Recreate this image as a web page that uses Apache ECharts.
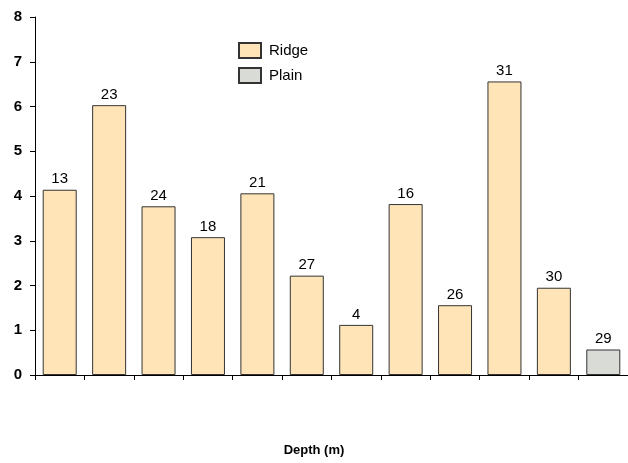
<!DOCTYPE html>
<html>
<head>
<meta charset="utf-8">
<script src="https://cdn.jsdelivr.net/npm/echarts@6/dist/echarts.min.js"></script>
<style>html,body{margin:0;padding:0;background:#fff}#c{width:628px;height:463px}</style>
</head>
<body>
<div id="c"></div>
<script>
var categories = ['1','2','3','4','5','6','7','8','9','10','11','12'];
var ridgeValues = [4.14, 6.03, 3.77, 3.08, 4.06, 2.22, 1.12, 3.82, 1.56, 6.56, 1.95, null];
var plainValues = [null, null, null, null, null, null, null, null, null, null, null, 0.57];
var barLabels = ['13','23','24','18','21','27','4','16','26','31','30','29'];
var yTicks = [0,1,2,3,4,5,6,7,8];

var chart = echarts.init(document.getElementById('c'));
var font = 'Arial, "Liberation Sans", sans-serif';
function lbl(p){ return barLabels[p.dataIndex]; }
chart.setOption({
  animation: false,
  backgroundColor: '#fff',
  title: {
    text: 'Depth (m)', left: 'center', top: 444, padding: 0,
    textStyle: {fontFamily: font, fontSize: 13, fontWeight: 'bold', color: '#000'}
  },
  legend: {
    orient: 'vertical', left: 238, top: 42, padding: 0, itemWidth: 22, itemHeight: 15, itemGap: 8,
    icon: 'rect',
    textStyle: {fontFamily: font, fontSize: 15, color: '#000', padding: [0,0,0,3]},
    data: ['Ridge', 'Plain']
  },
  grid: {left: 35, right: 0, top: 17, bottom: 88, containLabel: false},
  xAxis: {
    type: 'category', data: categories,
    axisLine: {lineStyle: {color: '#000', width: 1}},
    axisTick: {show: true, interval: 0, length: 5, lineStyle: {color: '#000'}},
    axisLabel: {show: false}
  },
  yAxis: {
    type: 'value', min: yTicks[0], max: yTicks[yTicks.length-1], interval: 1,
    axisLine: {show: true, lineStyle: {color: '#000', width: 1}},
    axisTick: {show: true, length: 5, lineStyle: {color: '#000'}},
    splitLine: {show: false},
    axisLabel: {margin: 13, fontFamily: font, fontSize: 15, fontWeight: 'bold', color: '#000'}
  },
  series: [
    {
      name: 'Ridge', type: 'bar', stack: 's', data: ridgeValues, barWidth: 34,
      itemStyle: {color: '#FFE4B8', borderColor: '#333', borderWidth: 1},
      label: {show: true, position: 'top', distance: 3, formatter: lbl, fontFamily: font, fontSize: 15, color: '#000'}
    },
    {
      name: 'Plain', type: 'bar', stack: 's', data: plainValues, barWidth: 34,
      itemStyle: {color: '#D9DBD7', borderColor: '#333', borderWidth: 1},
      label: {show: true, position: 'top', distance: 3, formatter: lbl, fontFamily: font, fontSize: 15, color: '#000'}
    }
  ]
});
</script>
</body>
</html>
